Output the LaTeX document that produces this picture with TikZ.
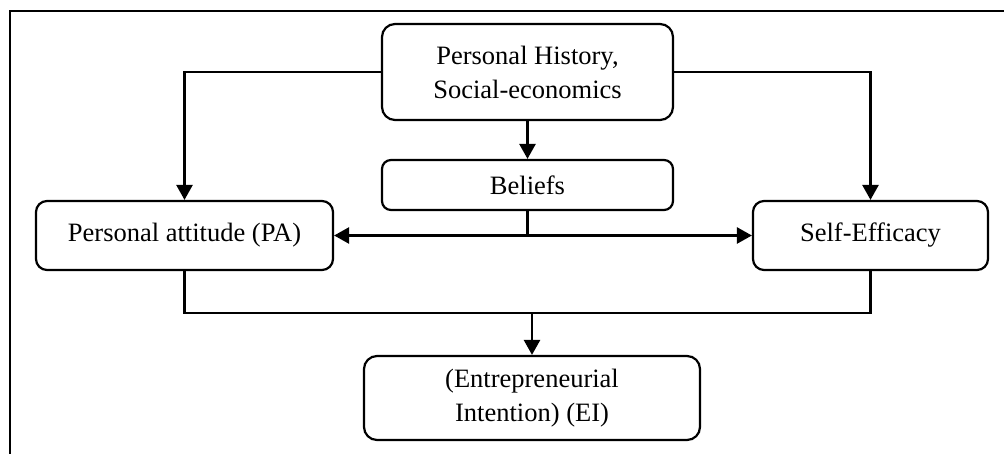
\documentclass[tikz,border=0pt]{standalone}
\usepackage{fontspec}
\setmainfont{Liberation Serif}
\usetikzlibrary{arrows.meta}
\begin{document}
\begin{tikzpicture}[x=1pt,y=-1pt,
  box/.style={draw,line width=2.2pt,inner sep=0pt,align=center,
    font=\fontsize{26.5}{34}\selectfont},
  conn/.style={line width=2.6pt,-{Triangle[width=16pt,length=15pt]}},
  wire/.style={line width=2.6pt}]
\useasboundingbox (0,0) rectangle (1004,454);
\draw[line width=2.2pt] (10,454) -- (10,11) -- (1004,11);
\node[box,rounded corners=13pt,minimum width=291pt,minimum height=96pt] (hist) at (527.5,72) {Personal History,\\Social-economics};
\node[box,rounded corners=9pt,minimum width=291pt,minimum height=50pt] (bel) at (527.5,185) {Beliefs};
\node[box,rounded corners=11pt,minimum width=297pt,minimum height=69pt] (pa) at (184.5,235.5) {Personal attitude (PA)};
\node[box,rounded corners=11pt,minimum width=235pt,minimum height=69pt] (se) at (870.5,235.5) {Self-Efficacy};
\node[box,rounded corners=13pt,minimum width=336pt,minimum height=84pt] (ei) at (532,398) {(Entrepreneurial\\Intention) (EI)};
\coordinate (j1) at (bel.south |- pa.east);
\coordinate (j2) at (531,313);
\draw[conn] (hist.west) -| (pa.north);
\draw[conn] (hist.east) -| (se.north);
\draw[conn] (hist.south) -- (bel.north);
\draw[wire] (bel.south) -- (j1);
\draw[conn] (j1) -- (pa.east);
\draw[conn] (j1) -- (se.west);
\draw[wire] (pa.south) |- (j2);
\draw[wire] (se.south) |- (j2);
\draw[conn] (j2) -- (j2 -| ei.north) -- (ei.north);
\end{tikzpicture}
\end{document}
